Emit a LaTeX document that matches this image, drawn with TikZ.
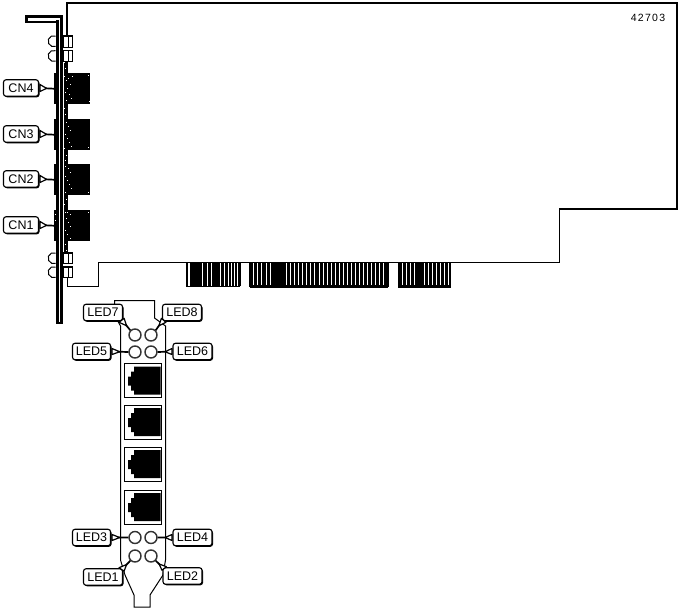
\documentclass[tikz,border=0pt]{standalone}
\usepackage{fontspec}
\setmainfont{Liberation Sans}
\usetikzlibrary{calc,shadows}
\tikzset{
  outline/.style={line width=1.8pt,line join=miter},
  thinline/.style={line width=1pt,line join=miter},
  lbl/.style={draw=black,fill=white,line width=1.1pt,rounded corners=2.5pt,inner sep=0pt,
    minimum height=16.5pt,font=\fontsize{12.5}{14}\selectfont,
    drop shadow={shadow xshift=1pt,shadow yshift=-1pt,opacity=1,fill=black}},
  ledw/.style={lbl,minimum width=39pt},
  cnw/.style={lbl,minimum width=35pt},
  led/.style={circle,draw=black!80,fill=white,line width=1.4pt,minimum size=12pt,inner sep=0pt},
  block/.style={fill=black,inner sep=0pt,minimum width=36pt,minimum height=31pt},
  jackbox/.style={draw=black,fill=white,line width=1pt,inner sep=0pt,minimum width=37pt,minimum height=34pt},
  leader/.style={draw=black,fill=white,line width=1.2pt,line join=round},
  leadtail/.style={draw=black,line width=1.7pt},
  screw/.style={draw=black,fill=white,line width=1.1pt},
  speck/.style={fill=white}
}
% wedge: #1,#2 base points at the label, #3 label anchor, #4 target
\newcommand{\wedgeline}[4]{
  \path[leader] #1 -- ($#3!0.5!#4$) -- #2 -- cycle;
  \draw[leadtail] ($#3!0.45!#4$) -- #4;
}
\begin{document}
\begin{tikzpicture}[x=1pt,y=-1pt]
\useasboundingbox (0,0) rectangle (680,608);
\fill[white] (0,0) rectangle (680,608);
% card outline
\draw[outline] (67,36) -- (67,3) -- (677,3) -- (677,209) -- (559,209);
\draw[thinline] (559.5,208) -- (559.5,262.5) -- (451,262.5);
\draw[thinline] (67.5,277) -- (67.5,286.5) -- (98.5,286.5) -- (98.5,262.5) -- (186,262.5);
% edge fingers
\fill (186,262) rectangle (240,287);
\fill (250,262) rectangle (388,288);
\fill (398,262) rectangle (451,288);
\foreach \a/\w in {187.5/2.5,202/1.2,206.5/1.2,211.3/1,219.5/1,224.3/1,227.5/1,230.7/1,233.5/1,236.8/1}
  \fill[white] (\a,263) rectangle ++(\w,23);
\foreach \a in {253,257,261.2,265.5,269.5,286.2,290.2,294.2,298.2,302.2,306.2,310.2,314.2,318.5,322.5,326.7,330.7,334.7,338.7,342.7,346.7,350.7,354.7,358.7,362.7,366.7,370.7,374.7,378.7,382.5}
  \fill[white] (\a,263) rectangle ++(1,22);
\foreach \a in {401.7,405.7,409.7,413.7,423.5,427.7,431.7,435.7,439.7,443.7,447.5}
  \fill[white] (\a,263) rectangle ++(1,22);
\draw[thinline] (240.5,286) -- (240.5,262.5) -- (249.5,262.5) -- (249.5,287);
\draw[thinline] (388.5,287) -- (388.5,262.5) -- (398.5,262.5) -- (398.5,287);
% connector strip
\fill (63.3,60) rectangle (67.5,253);
% connector blocks
\node[block,anchor=north west] (cn4b) at (54,73) {};
\node[block,anchor=north west] (cn3b) at (54,119) {};
\node[block,anchor=north west] (cn2b) at (54,164) {};
\node[block,anchor=north west] (cn1b) at (54,210) {};
% rear bracket, side view
\fill (25,15) rectangle (62.7,22.7);
\fill[white] (28,17.5) rectangle (60,20.5);
\fill (56,20) rectangle (62.7,323.5);
\fill[white] (58.7,17.5) rectangle (60.3,321.5);
\fill[white] (62.7,22) rectangle (63.3,323);
\foreach \px/\py in {64/62,65/68,64/76,66/80,68/78,70/84,67/88,65/92,69/94,71/98,66/100,72/76,88/75,89/101,
  64/108,65/114,66/122,68/126,70/130,65/134,67/138,69/142,71/146,64/148,66/155,88/147,
  65/160,65/166,68/168,70/172,65/176,67/180,69/184,71/188,65/192,66/199,88/192,
  64/204,65/212,67/212,70/214,88/212,66/218,68/222,70/226,65/230,67/234,70/238,65/244,66/250,55/214,55/220}
  \fill[speck] (\px,\py) rectangle ++(1,1.4);
% screws
\foreach \yy/\hh in {36/11.5,50.7/10.5,253/10.5,267/10.5}{
  \draw[line width=1pt,black] (55.5,\yy) arc[start angle=70,end angle=290,radius=5.5pt];
  \draw[screw] (63.5,\yy) rectangle ++(9,\hh);
  \draw[line width=1pt] (68.5,\yy) -- ++(0,\hh);
}
% front view bracket
\draw[thinline,fill=white] (114.5,315) -- (114.5,300.5) -- (154.5,300.5) -- (154.5,318) -- (165.5,326) -- (165.5,560)
  -- (163,575) -- (150,595) -- (150,607) -- (134,607) -- (134,595) -- (125,575) -- (120.5,560) -- (120.5,326) -- cycle;
% jacks
\foreach \n/\yy in {a/380.5,b/422,c/464,d/507}{
  \node[jackbox] (jack\n) at (143,\yy) {};
  \fill ($(jack\n.center)+(17.5,-14)$) -- ($(jack\n.center)+(-9,-14)$) -- ++(0,5) -- ++(-3,0) -- ++(0,5) -- ++(-3,0) -- ++(0,9)
     -- ++(3,0) -- ++(0,5) -- ++(3,0) -- ++(0,4) -- ($(jack\n.center)+(17.5,14)$) -- cycle;
}
% LEDs
\node[led] (led7) at (135,335) {};
\node[led] (led8) at (151,335) {};
\node[led] (led5) at (135,352) {};
\node[led] (led6) at (151,352) {};
\node[led] (led3) at (135,537.5) {};
\node[led] (led4) at (151,537.5) {};
\node[led] (led1) at (135,556) {};
\node[led] (led2) at (151,556) {};
% labels
\node[ledw] (lab7) at (103,312.5) {LED7};
\node[ledw] (lab8) at (182,312.5) {LED8};
\node[ledw,minimum width=38pt] (lab5) at (91.5,351.5) {LED5};
\node[ledw] (lab6) at (192.5,351.5) {LED6};
\node[ledw,minimum width=38pt] (lab3) at (91.5,537.5) {LED3};
\node[ledw] (lab4) at (192.5,537.5) {LED4};
\node[ledw] (lab1) at (103,577) {LED1};
\node[ledw] (lab2) at (182.5,576) {LED2};
\node[cnw] (cn4) at (21,88) {CN4};
\node[cnw] (cn3) at (21,134) {CN3};
\node[cnw] (cn2) at (21,179) {CN2};
\node[cnw] (cn1) at (21,225) {CN1};
\node[font=\fontsize{10.5}{12}\selectfont,inner sep=0pt,text=black] (num) at (648,18) {\addfontfeature{LetterSpace=12}42703};
% leaders
\foreach \c in {cn4,cn3,cn2,cn1}{
  \wedgeline{($(\c.east)+(1,-3.5)$)}{($(\c.east)+(1,3.5)$)}{(\c.east)}{(\c b.west)}
}
\foreach \l/\t in {lab5/led5,lab3/led3}{
  \wedgeline{($(\l.east)+(1,-3)$)}{($(\l.east)+(1,3)$)}{(\l.east)}{(\t.west)}
}
\foreach \l/\t in {lab6/led6,lab4/led4}{
  \wedgeline{($(\l.west)+(-0.5,-3)$)}{($(\l.west)+(-0.5,3)$)}{(\l.west)}{(\t.east)}
}
\wedgeline{($(lab7.south east)+(-4,1)$)}{($(lab7.south east)+(1,-3)$)}{(lab7.south east)}{(led7.north west)}
\wedgeline{($(lab8.south west)+(4,1)$)}{($(lab8.south west)+(-0.5,-3)$)}{(lab8.south west)}{(led8.north east)}
\wedgeline{($(lab1.north east)+(-4,-0.5)$)}{($(lab1.north east)+(1,3)$)}{(lab1.north east)}{(led1.south west)}
\wedgeline{($(lab2.north west)+(4,-0.5)$)}{($(lab2.north west)+(-0.5,3)$)}{(lab2.north west)}{(led2.south east)}
\end{tikzpicture}
\end{document}
